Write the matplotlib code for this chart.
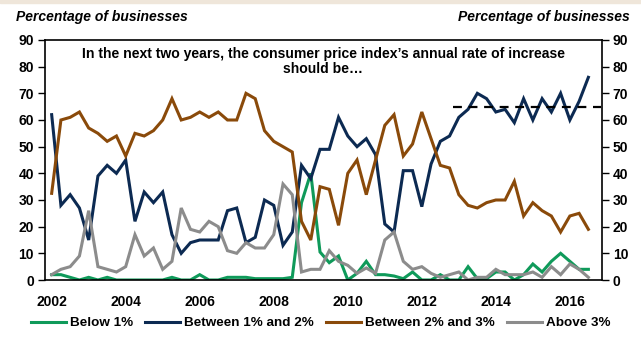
import matplotlib
matplotlib.use("Agg")
import matplotlib.pyplot as plt
import numpy as np

plt.rcParams['font.family'] = ['Liberation Sans', 'DejaVu Sans']

start_year = 2002.0
below_1 = [2, 2, 1, 0, 1, 0, 1, 0, 0, 0, 0, 0, 0, 1, 0, 0, 2, 0, 0, 1,
           1, 1, 0.5, 0.5, 0.5, 0.5, 1, 29, 40, 10.5, 6.5, 9, 0, 2.5, 7, 2, 2, 1.5, 0.5, 3,
           0, 0, 2, 0, 0, 5, 0.5, 0.5, 3, 3, 0, 2, 6, 3, 7, 10, 7, 4, 4]
between_1_2 = [62, 28, 32, 27, 15, 39, 43, 40, 45, 22, 33, 29, 33, 17, 10, 14, 15, 15, 15, 26,
               27, 14, 16, 30, 28, 13, 18, 43, 38, 49, 49, 61, 54, 50, 53, 47, 21, 18, 41, 41,
               27.5, 43.5, 52, 54, 61, 64, 70, 68, 63, 64, 59, 68, 60, 68, 63, 70, 60, 67, 76]
between_2_3 = [32.5, 60, 61, 63, 57, 55, 52, 54, 46.5, 55, 54, 56, 60, 68, 60, 61, 63, 61, 63, 60,
               60, 70, 68, 56, 52, 50, 48, 22, 15, 35, 34, 20.5, 40, 45, 32, 45, 58, 62, 46.5, 51,
               63, 53, 43, 42, 32, 28, 27, 29, 30, 30, 37, 24, 29, 26, 24, 18, 24, 25, 19]
above_3 = [2, 4, 5, 9, 26, 5, 4, 3, 5, 17, 9, 12, 4, 7, 27, 19, 18, 22, 20, 11,
           10, 14, 12, 12, 17, 36, 32, 3, 4, 4, 11, 7, 5.5, 2.5, 4.5, 2.5, 15, 18, 7, 4,
           5, 2.5, 1, 2, 3, 0, 1, 1, 4, 2, 2, 2, 3, 1, 5, 2, 6, 4, 1]

ref_level = 65
ref_span = [2012.85, 2016.85]

series_names = ["Below 1%", "Between 1% and 2%", "Between 2% and 3%", "Above 3%"]
colors = ["#0f9a5a", "#0c2a52", "#8a4a0a", "#8c8c8c"]
year_ticks = [2002, 2004, 2006, 2008, 2010, 2012, 2014, 2016]
y_ticks = [0, 10, 20, 30, 40, 50, 60, 70, 80, 90]

x = start_year + np.arange(len(below_1)) * 0.25

fig = plt.figure(figsize=(6.41, 3.39), dpi=100)
ax = fig.add_axes([45/641, 1-280/339, (601.7-45)/641, 240/339])

for data, name, c in zip([below_1, between_1_2, between_2_3, above_3], series_names, colors):
    ax.plot(x, data, color=c, lw=2.2, label=name, solid_joinstyle='miter')

ax.plot(ref_span, [ref_level, ref_level], color='black', lw=1.6, ls=(0, (4, 3)))

ax.set_xlim(2001.82, 2016.86)
ax.set_ylim(0, 90)
ax.set_yticks(y_ticks)
ax.set_xticks(year_ticks)
ax.tick_params(axis='x', length=0, pad=11, labelsize=10)
ax.tick_params(axis='y', length=5, width=1, labelsize=10, direction='out',
               left=True, right=True, labelleft=True, labelright=True, pad=3)
for lab in ax.get_xticklabels() + ax.get_yticklabels():
    lab.set_fontweight('bold')
for t in ax.yaxis.get_major_ticks():
    t.label1.set_fontweight('bold')
    t.label2.set_fontweight('bold')
for sp in ax.spines.values():
    sp.set_linewidth(1.2)

ax.text(0.5, 0.97, "In the next two years, the consumer price index\u2019s annual rate of increase\nshould be\u2026",
        transform=ax.transAxes, ha='center', va='top', fontsize=10.1, fontweight='bold',
        linespacing=1.1)

fig.text(16/641, 1-17/339, "Percentage of businesses", ha='left', va='center',
         fontsize=10, fontweight='bold', style='italic')
fig.text(630/641, 1-17/339, "Percentage of businesses", ha='right', va='center',
         fontsize=10, fontweight='bold', style='italic')

leg = fig.legend(loc='center', bbox_to_anchor=(0.5, 1-323/339), ncol=4, frameon=False,
                 prop={'weight': 'bold', 'size': 9.7}, handlelength=2.6, handletextpad=0.3,
                 columnspacing=0.9)
for line in leg.get_lines():
    line.set_linewidth(2.2)

fig.patches.append(matplotlib.patches.Rectangle((0, 1-3/339), 1, 3/339, transform=fig.transFigure,
                                                 color='#efe6da', zorder=0))

fig.savefig("out.png", dpi=100)
